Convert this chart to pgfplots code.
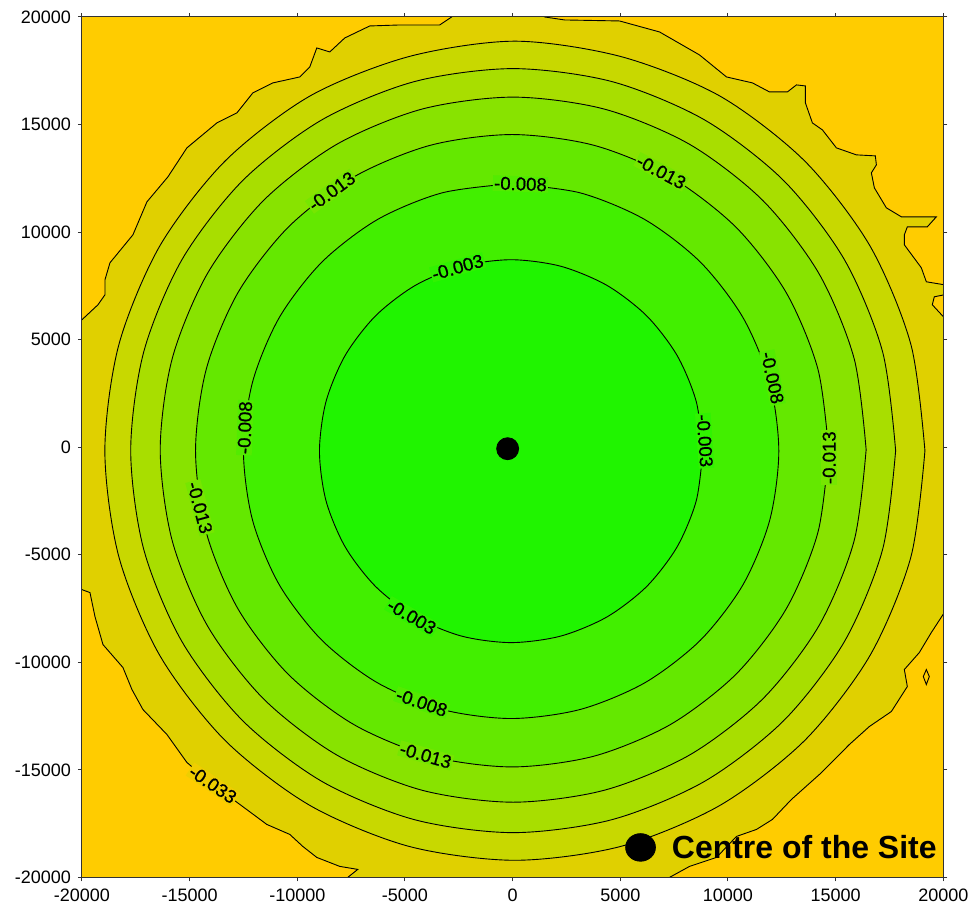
\documentclass[border=0pt]{standalone}
\usepackage{pgfplots}
\pgfplotsset{compat=1.18}
\usepackage{fontspec}
\setmainfont{Liberation Sans}
\newfontfamily\lblfont[FakeBold=0.7]{Liberation Sans}
\definecolor{c0}{RGB}{255,204,0}
\definecolor{c1}{RGB}{224,208,0}
\definecolor{c2}{RGB}{200,216,0}
\definecolor{c3}{RGB}{168,222,0}
\definecolor{c4}{RGB}{136,227,0}
\definecolor{c5}{RGB}{100,232,0}
\definecolor{c6}{RGB}{66,239,0}
\definecolor{c7}{RGB}{32,244,0}
\newcommand{\lbl}{\lblfont\fontsize{9.3}{10}\selectfont}
\tikzset{lab/.style={inner sep=0.6pt, font=\lbl}}
\begin{document}
\begin{tikzpicture}
\begin{axis}[
  scale only axis, width=431pt, height=430.5pt,
  xmin=-20000, xmax=20000, ymin=-20000, ymax=20000,
  xtick={-20000,-15000,...,20000}, ytick={-20000,-15000,...,20000},
  scaled ticks=false,
  /pgf/number format/1000 sep={},
  /pgf/number format/assume math mode=true,
  tick label style={font=\fontsize{9}{10}\selectfont},
  tick align=outside, major tick length=2pt,
  every tick/.style={black!80, line width=0.5pt},
  axis line style={black!80, line width=0.5pt},
  axis background/.style={fill=c0},
  axis on top,
  ring/.style={draw=black, line width=0.45pt, smooth, tension=0.5},
]
% -0.033 contour
\addplot[draw=black, line width=0.45pt, fill=c1] coordinates {
(-21019,5924) (-20000,5924) (-19256,6621) (-18931,7085) (-18931,7782) (-18699,8572)
(-17632,9873) (-16982,11406) (-16008,12567) (-15126,13915) (-13734,15076) (-12806,15541)
(-12064,16470) (-11136,16935) (-9883,17213) (-9419,17678) (-9094,18561) (-8491,18375)
(-7795,19025) (-6635,19583) (-5243,19629) (-3387,19629) (-2830,20001) (-2459,20559)
(789,20559) (1485,20001) (2413,19862) (4965,19815) (6821,19304) (8677,18236)
(9930,17213) (11136,16935) (11925,16517) (12760,16517) (13178,16842) (13595,16795)
(13595,16005) (13920,15076) (14384,14751) (15034,13915) (15962,13590) (16843,13543)
(16890,13125) (16658,12753) (16797,12056) (17354,11127) (18050,10709) (19674,10709)
(19256,10244) (18328,10244) (18189,9873) (18189,9408) (18978,8340) (19210,7689)
(20045,7550) (20741,7410) (20741,7178) (20045,7085) (19581,6992) (19488,6621)
(20045,6017) (20741,6017) (20741,-7689) (20045,-7689) (19442,-8618) (18885,-9548)
(18189,-10337) (18328,-11127) (17586,-12289) (16565,-12986) (15637,-13822) (14245,-15216)
(12946,-16377) (12064,-17306) (11322,-17771) (10394,-18096) (9466,-19072) (8213,-19490)
(7285,-20001) (7053,-20791) (-7099,-20791) (-7656,-20001) (-7192,-19629) (-8027,-19490)
(-9094,-19072) (-9744,-18561) (-10347,-18003) (-11414,-17539) (-12667,-16609) (-13920,-15680)
(-15126,-14658) (-16054,-13357) (-17168,-12196) (-17678,-11267) (-18096,-10244) (-19024,-9176)
(-19395,-7875) (-19627,-6760) (-20000,-6621) (-21019,-6621)
} -- cycle;
% small orange island
\addplot[draw=black, line width=0.45pt, fill=c0] coordinates {
(19210,-10338) (19349,-10663) (19210,-11035) (19070,-10663)
} -- cycle;
% -0.028
\addplot[ring, fill=c2] coordinates {
(19145,-165) (18496,4763) (16594,9355) (13568,13298) (9625,16324) (5033,18158)
(105,18875) (-4823,18158) (-9415,16324) (-13358,13298) (-16384,9355) (-18286,4763)
(-18935,-165) (-18286,-5093) (-16384,-9685) (-13358,-13628) (-9415,-16654) (-4823,-18556)
(105,-19205) (5033,-18556) (9625,-16654) (13568,-13628) (16594,-9685) (18496,-5093)
(19145,-165)
};
% -0.023
\addplot[ring, fill=c3] coordinates {
(17785,-160) (17179,4436) (15405,8720) (12583,12398) (8905,15220) (4621,16994)
(25,17600) (-4571,16994) (-8855,15220) (-12533,12398) (-15355,8720) (-17129,4436)
(-17735,-160) (-17129,-4756) (-15355,-9040) (-12533,-12718) (-8855,-15540) (-4571,-17314)
(25,-17920) (4621,-17314) (8905,-15540) (12583,-12718) (15405,-9040) (17179,-4756)
(17785,-160)
};
% -0.018
\addplot[ring, fill=c4] coordinates {
(16415,-115) (15856,4127) (14219,8080) (11614,11474) (8220,14079) (4267,15716)
(25,16275) (-4217,15716) (-8170,14079) (-11564,11474) (-14169,8080) (-15806,4127)
(-16365,-115) (-15806,-4357) (-14169,-8310) (-11564,-11704) (-8170,-14309) (-4217,-15946)
(25,-16505) (4267,-15946) (8220,-14309) (11614,-11704) (14219,-8310) (15856,-4357)
(16415,-115)
};
% -0.013
\addplot[ring, fill=c5] coordinates {
(14675,-165) (14174,3639) (12705,7185) (10369,10229) (7325,12565) (3779,14034)
(-25,14535) (-3829,14034) (-7375,12565) (-10419,10229) (-12755,7185) (-14224,3639)
(-14725,-165) (-14224,-3969) (-12755,-7515) (-10419,-10559) (-7375,-12895) (-3829,-14364)
(-25,-14865) (3779,-14364) (7325,-12895) (10369,-10559) (12705,-7515) (14174,-3969)
(14675,-165)
};
% -0.008
\addplot[ring, fill=c6] coordinates {
(-70,12245) (-3287,11821) (-6285,10579) (-8859,8604) (-10834,6030) (-12076,3032)
(-12500,-185) (-12076,-3402) (-10834,-6400) (-8859,-8974) (-6285,-10949) (-3287,-12191)
(-70,-12615) (3147,-12191) (6145,-10949) (8719,-8974) (10694,-6400) (11936,-3402)
(12360,-185) (11936,3032) (10694,6030) (8719,8604) (6145,10579) (3147,11821)
(-70,12245)
};
% -0.003
\addplot[ring, fill=c7] coordinates {
(8830,-185) (8527,2118) (7637,4265) (6223,6108) (4380,7522) (2233,8412)
(-70,8715) (-2373,8412) (-4520,7522) (-6363,6108) (-7777,4265) (-8667,2118)
(-8970,-185) (-8667,-2488) (-7777,-4635) (-6363,-6478) (-4520,-7892) (-2373,-8782)
(-70,-9085) (2233,-8782) (4380,-7892) (6223,-6478) (7637,-4635) (8527,-2488)
(8830,-185)
};
% contour labels
\node[lab, rotate=36, fill=c4!50!c5] at (axis cs:-8400,11900) {-0.013};
\node[lab, rotate=-2, fill=c5!50!c6] at (axis cs:364,12237) {-0.008};
\node[lab, rotate=-28, fill=c4!50!c5] at (axis cs:6901,12800) {-0.013};
\node[lab, rotate=16, fill=c6!50!c7] at (axis cs:-2553,8362) {-0.003};
\node[lab, rotate=-78, fill=c5!50!c6] at (axis cs:12064,3229) {-0.008};
\node[lab, rotate=-86, fill=c6!50!c7] at (axis cs:8920,300) {-0.003};
\node[lab, rotate=90, fill=c4!50!c5] at (axis cs:14700,-488) {-0.013};
\node[lab, rotate=88, fill=c5!50!c6] at (axis cs:-12435,906) {-0.008};
\node[lab, rotate=-75, fill=c4!50!c5] at (axis cs:-14523,-2811) {-0.013};
\node[lab, rotate=-30, fill=c6!50!c7] at (axis cs:-4686,-7876) {-0.003};
\node[lab, rotate=-19, fill=c5!50!c6] at (axis cs:-4222,-11872) {-0.008};
\node[lab, rotate=-16, fill=c4!50!c5] at (axis cs:-4037,-14333) {-0.013};
\node[lab, rotate=-34, fill=c0!50!c1] at (axis cs:-13920,-15680) {-0.033};
% centre of the site
\addplot[only marks, mark=*, mark size=5.5pt, color=black] coordinates {(-232,-70)};
\addplot[only marks, mark=*, mark size=6.9pt, mark options={xscale=1.08}, color=black] coordinates {(5939,-18607)};
\node[anchor=west, inner sep=0pt, font=\bfseries\fontsize{16}{18}\selectfont] at (axis cs:7378,-18607) {Centre of the Site};
\end{axis}
\path ([shift={(-41pt,-19pt)}]current axis.south west) rectangle ([shift={(15.5pt,8.5pt)}]current axis.north east);
\end{tikzpicture}
\end{document}
